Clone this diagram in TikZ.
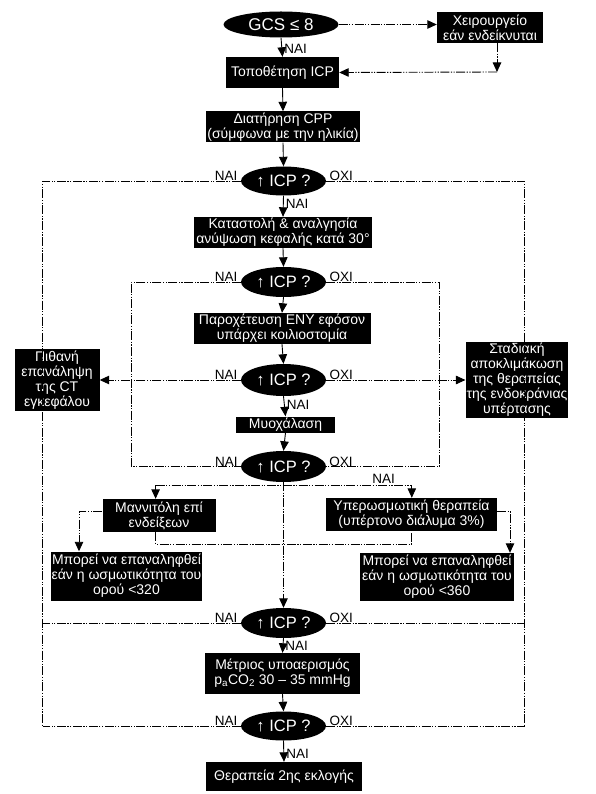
\documentclass[tikz,border=0pt]{standalone}
\usepackage{fontspec}
\setmainfont{Liberation Sans}
\usetikzlibrary{shapes.geometric,arrows.meta}
\begin{document}
\begin{tikzpicture}[x=1pt,y=-1pt,
  blk/.style={fill=black,text=white,align=center,inner sep=1pt,font=\fontsize{14}{15}\selectfont},
  ell/.style={ellipse,fill=black,text=white,inner sep=0pt,minimum width=85pt,minimum height=30pt,font=\fontsize{16.5}{16.5}\selectfont},
  lbl/.style={font=\fontsize{13.5}{13.5}\selectfont,inner sep=0pt},
  ln/.style={line width=0.9pt,dash pattern=on 9pt off 1.5pt on 1.2pt off 1.5pt on 1.2pt off 1.5pt},
  arr/.style={ln,-{Triangle[length=9.5pt,width=8.5pt]}},
  sarr/.style={line width=0.9pt,-{Triangle[length=9.5pt,width=8.5pt]}}
]
\useasboundingbox (0,0) rectangle (595,794);

% nodes
\node[ell,minimum width=115pt,minimum height=26pt,font=\fontsize{17}{17}\selectfont] (gcs) at (281,24.5) {GCS ≤ 8};
\node[blk,minimum width=106pt,minimum height=31pt] (surg) at (490,27.5) {Χειρουργείο\\εάν ενδείκνυται};
\node[blk,minimum width=113pt,minimum height=31pt] (icp) at (282.5,72.5) {Τοποθέτηση ICP};
\node[blk,minimum width=154pt,minimum height=31pt] (cpp) at (283,127) {Διατήρηση CPP\\(σύμφωνα με την ηλικία)};
\node[ell,minimum height=29pt] (q1) at (283.5,181) {↑ ICP ?};
\node[blk,minimum width=178pt,minimum height=31pt] (sed) at (283,232.5) {Καταστολή \& αναλγησία\\ανύψωση κεφαλής κατά 30°};
\node[ell] (q2) at (283.5,282) {↑ ICP ?};
\node[blk,minimum width=177pt,minimum height=31pt] (csf) at (282,328.5) {Παροχέτευση ΕΝΥ εφόσον\\υπάρχει κοιλιοστομία};
\node[ell,minimum height=32pt] (q3) at (283.5,380) {↑ ICP ?};
\node[blk,minimum width=85pt,minimum height=62pt] (ct) at (57,380) {Πιθανή\\επανάληψη\\της CT\\εγκεφάλου};
\node[blk,minimum width=100pt,minimum height=75pt] (deesc) at (517,380) {Σταδιακή\\αποκλιμάκωση\\της θεραπείας\\της ενδοκράνιας\\υπέρτασης};
\node[blk,minimum width=99pt,minimum height=16pt,inner ysep=0pt] (myo) at (285.5,424.5) {Μυοχάλαση};
\node[ell,minimum height=31pt] (q4) at (283.5,466.5) {↑ ICP ?};
\node[blk,minimum width=113pt,minimum height=33pt] (man) at (159,515.5) {Μαννιτόλη επί\\ενδείξεων};
\node[blk,minimum width=171pt,minimum height=33pt] (hyp) at (411.5,514.5) {Υπερωσμωτική θεραπεία\\(υπέρτονο διάλυμα 3\%)};
\node[blk,minimum width=141pt,minimum height=49pt] (r320) at (126.5,576) {Μπορεί να επαναληφθεί\\εάν η ωσμωτικότητα του\\ορού <320};
\node[blk,minimum width=154pt,minimum height=48pt] (r360) at (437,577) {Μπορεί να επαναληφθεί\\εάν η ωσμωτικότητα του\\ορού <360};
\node[ell] (q5) at (283.5,623) {↑ ICP ?};
\node[blk,minimum width=155pt,minimum height=41pt] (hypo) at (282.5,673.5) {Μέτριος υποαερισμός\\p\textsubscript{a}CO\textsubscript{2} 30 – 35 mmHg};
\node[ell,minimum height=29pt] (q6) at (283.5,726) {↑ ICP ?};
\node[blk,minimum width=156pt,minimum height=29pt] (fin) at (284,776.5) {Θεραπεία 2ης εκλογής};

% helper coordinates
\coordinate (L) at (42.5,0);
\coordinate (R) at (524.5,0);
\coordinate (IL) at (131,0);
\coordinate (IR) at (439.5,0);
\coordinate (sd) at (497,72);
\coordinate (bl) at (155.6,485);
\coordinate (br) at (411.8,485);
\coordinate (mb) at (155.6,544);
\coordinate (ml) at (79,511);
\coordinate (hr) at (510,511);

% top
\draw[sarr] (gcs.south) -- node[lbl,right=2pt,pos=0.6]{ΝΑΙ} (icp.north);
\draw[arr] (gcs.east) -- (surg.west |- gcs.east);
\draw[arr] (surg.south -| sd) -- (sd);
\draw[arr] (sd) -- (icp.east);
\draw[sarr] (icp.south) -- (cpp.north);
\draw[sarr] (cpp.south) -- (q1.north);

% q1
\draw[sarr] (q1.south) -- node[lbl,right=2pt,pos=0.4]{ΝΑΙ} (sed.north);
\draw[ln] (q1.west) node[lbl,anchor=south east,xshift=-3pt]{ΝΑΙ} -| (q6.west -| L);
\draw[ln] (q1.east) node[lbl,anchor=south west,xshift=3pt]{ΟΧΙ} -| (q6.east -| R);

% q2
\draw[sarr] (sed.south) -- (q2.north);
\draw[sarr] (q2.south) -- (csf.north);
\draw[ln] (q2.west) node[lbl,anchor=south east,xshift=-3pt]{ΝΑΙ} -| (q4.west -| IL) -- (q4.west);
\draw[ln] (q2.east) node[lbl,anchor=south west,xshift=3pt]{ΟΧΙ} -| (q4.east -| IR) -- (q4.east);

% q3
\draw[sarr] (csf.south) -- (q3.north);
\draw[arr] (q3.west) node[lbl,anchor=south east,xshift=-3pt]{ΝΑΙ} -- (ct.east);
\draw[arr] (q3.east) node[lbl,anchor=south west,xshift=3pt]{ΟΧΙ} -- (deesc.west);
\draw[sarr] (q3.south) -- node[lbl,right=2pt,pos=0.45]{ΝΑΙ} (myo.north);
\draw[sarr] (myo.south) -- (q4.north);

% q4
\node[lbl,anchor=south east,xshift=-3pt] at (q4.west) {ΝΑΙ};
\node[lbl,anchor=south west,xshift=3pt] at (q4.east) {ΟΧΙ};
\draw[arr] (q4.south) -- (q5.north);
\draw[ln] (bl) -- node[lbl,pos=0.89,anchor=south,yshift=1pt]{ΝΑΙ} (br);
\draw[arr] (bl) -- (bl |- man.north);
\draw[arr] (br) -- (br |- hyp.north);
\draw[ln] (man.south -| mb) -- (mb) -| (hyp.south -| br);
\draw[arr] (man.west |- ml) -- (ml) -- (ml |- r320.north);
\draw[arr] (hyp.east |- hr) -- (hr) -- (hr |- r360.north);

% q5
\draw[ln] (q5.west) node[lbl,anchor=south east,xshift=-3pt]{ΝΑΙ} -- (q5.west -| L);
\draw[ln] (q5.east) node[lbl,anchor=south west,xshift=3pt]{ΟΧΙ} -- (q5.east -| R);
\draw[sarr] (q5.south) -- node[lbl,right=2pt,pos=0.5]{ΝΑΙ} (hypo.north);
\draw[sarr] (hypo.south) -- (q6.north);

% q6
\draw[ln] (q6.west) node[lbl,anchor=south east,xshift=-3pt]{ΝΑΙ} -- (q6.west -| L);
\draw[ln] (q6.east) node[lbl,anchor=south west,xshift=3pt]{ΟΧΙ} -- (q6.east -| R);
\draw[sarr] (q6.south) -- node[lbl,right=2pt,pos=0.6]{ΝΑΙ} (fin.north);
\end{tikzpicture}
\end{document}
